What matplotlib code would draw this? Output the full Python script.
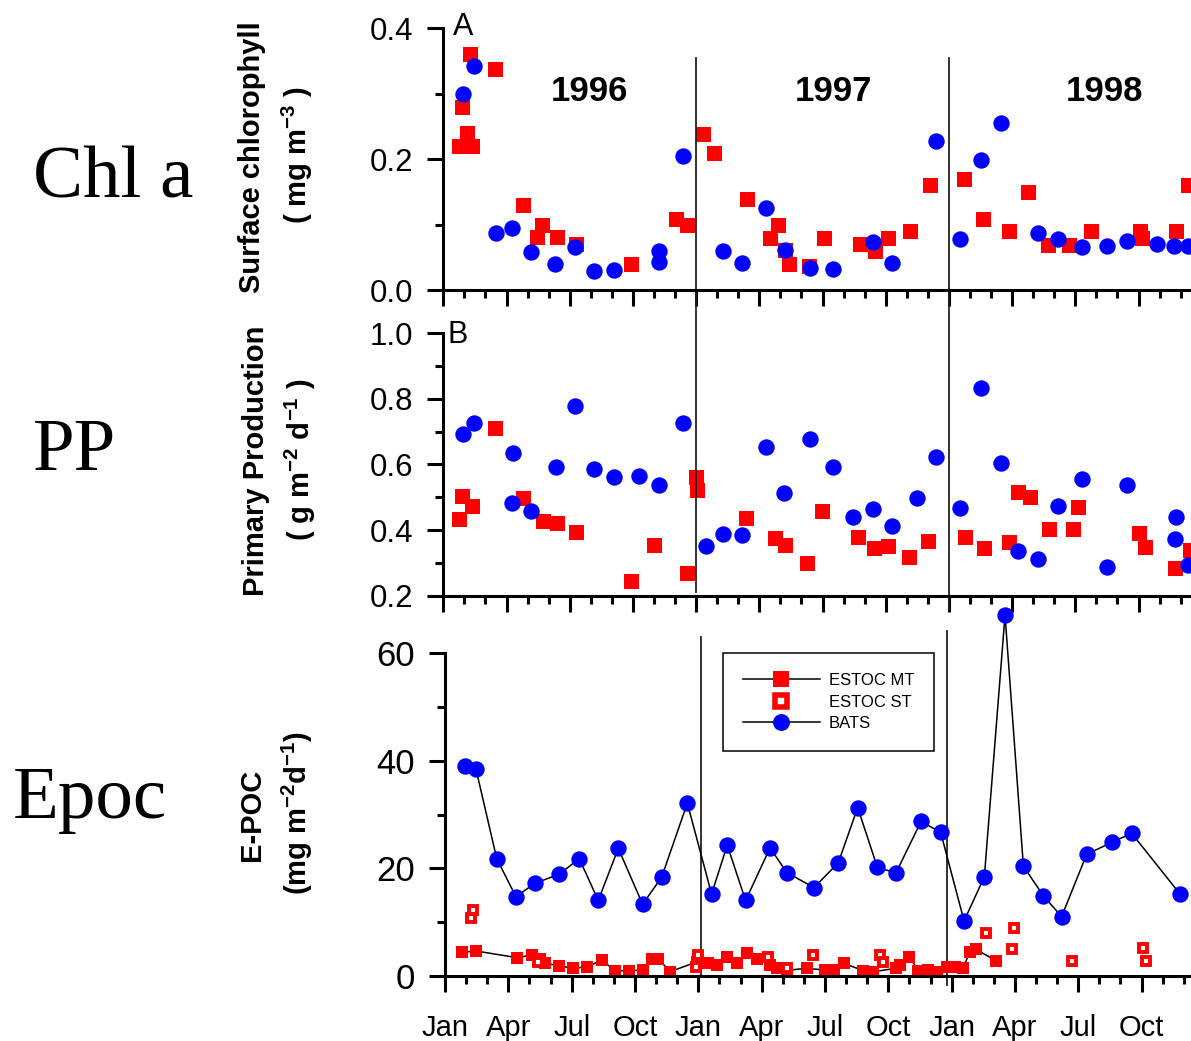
import matplotlib
matplotlib.use('Agg')
import matplotlib.pyplot as plt
from matplotlib.lines import Line2D
from matplotlib.ticker import MultipleLocator, FormatStrFormatter

plt.rcParams['font.family'] = 'Liberation Sans'
plt.rcParams['mathtext.fontset'] = 'custom'
plt.rcParams['mathtext.rm'] = 'Liberation Sans:bold'
plt.rcParams['mathtext.it'] = 'Liberation Sans:bold'
plt.rcParams['mathtext.bf'] = 'Liberation Sans:bold'

RED = '#ff0000'
BLUE = '#0000ff'

# x = months since 1 Jan 1996
month_ticks = list(range(0, 36, 3))
month_labels = ['Jan', 'Apr', 'Jul', 'Oct'] * 3
years = ['1996', '1997', '1998']
year_pos = [6.96, 18.54, 31.39]
year_lines = [12, 24]

# panel A - surface chlorophyll (mg m-3)
chl_estoc_m = [0.75, 0.89, 1.12, 1.27, 1.36, 2.45, 3.77, 4.43, 4.67, 5.38, 6.28, 8.91, 11.03, 11.55,
               12.34, 12.86, 14.40, 15.50, 15.90, 16.22, 16.42, 17.37, 18.08, 19.78, 20.49, 21.12,
               22.15, 23.10, 24.73, 25.63, 26.85, 27.74, 28.71, 29.68, 30.73, 33.07, 33.15, 34.77, 35.37]
chl_estoc = [0.22, 0.28, 0.24, 0.36, 0.22, 0.338, 0.13, 0.081, 0.099, 0.081, 0.07, 0.039, 0.109, 0.099,
             0.239, 0.21, 0.139, 0.08, 0.099, 0.061, 0.04, 0.036, 0.08, 0.07, 0.059, 0.08,
             0.09, 0.16, 0.17, 0.109, 0.09, 0.15, 0.069, 0.069, 0.09, 0.09, 0.08, 0.09, 0.16]
chl_bats_m = [0.95, 1.47, 2.49, 3.25, 4.16, 5.30, 6.25, 7.17, 8.10, 10.24, 10.24, 11.39, 13.29, 14.19,
              15.32, 16.22, 17.40, 18.51, 20.41, 21.28, 23.37, 24.52, 25.50, 26.47, 28.24, 29.16,
              30.33, 31.48, 32.46, 33.86, 34.69, 35.36]
chl_bats = [0.299, 0.342, 0.087, 0.095, 0.058, 0.040, 0.066, 0.029, 0.030, 0.060, 0.043, 0.205, 0.060, 0.042,
            0.125, 0.061, 0.034, 0.032, 0.073, 0.042, 0.227, 0.078, 0.198, 0.255, 0.087, 0.078,
            0.066, 0.068, 0.075, 0.071, 0.068, 0.068]

# panel B - primary production (g m-2 d-1)
pp_estoc_m = [0.76, 0.90, 1.35, 2.45, 3.77, 4.75, 5.38, 6.28, 8.91, 10.00, 11.58, 11.98, 12.03, 14.35,
              15.74, 16.22, 17.25, 17.99, 19.67, 20.44, 21.09, 22.10, 22.99, 24.76, 25.68, 26.85,
              27.26, 27.85, 28.75, 29.87, 30.14, 33.03, 33.30, 34.73, 35.44]
pp_estoc = [0.434, 0.505, 0.473, 0.712, 0.499, 0.429, 0.421, 0.395, 0.245, 0.355, 0.268, 0.563, 0.522, 0.438,
            0.375, 0.355, 0.301, 0.459, 0.380, 0.346, 0.352, 0.319, 0.368, 0.380, 0.346, 0.365,
            0.517, 0.502, 0.403, 0.403, 0.469, 0.390, 0.349, 0.285, 0.339]
pp_bats_m = [0.95, 1.47, 3.25, 3.32, 4.16, 5.33, 6.25, 7.17, 8.10, 9.29, 10.24, 11.39, 12.47, 13.29,
             14.16, 15.32, 16.18, 17.40, 18.51, 19.43, 20.41, 21.28, 22.47, 23.37, 24.52, 25.50,
             26.47, 27.29, 28.24, 29.16, 30.33, 31.48, 32.46, 34.73, 34.76, 35.36]
pp_bats = [0.692, 0.726, 0.482, 0.634, 0.458, 0.591, 0.779, 0.586, 0.561, 0.566, 0.538, 0.726, 0.352, 0.388,
           0.385, 0.652, 0.512, 0.677, 0.591, 0.441, 0.464, 0.413, 0.499, 0.624, 0.466, 0.834,
           0.606, 0.336, 0.312, 0.473, 0.556, 0.287, 0.538, 0.373, 0.439, 0.294]

# panel C - E-POC (mg m-2 d-1)
poc_mt_m = [0.79, 1.47, 3.42, 4.11, 4.50, 4.74, 5.41, 6.08, 6.74, 7.42, 8.05, 8.72, 9.39, 9.80, 10.10,
            10.66, 11.95, 12.47, 12.90, 13.34, 13.82, 14.29, 14.79, 15.40, 15.71, 16.19, 17.13, 18.00,
            18.43, 18.90, 19.82, 20.29, 21.36, 21.55, 22.00, 22.42, 22.90, 23.29, 23.77, 24.16, 24.55,
            24.87, 25.15, 26.10]
poc_mt = [4.35, 4.6, 3.35, 3.85, 3.05, 2.3, 1.86, 1.37, 1.67, 2.92, 0.93, 0.93, 1.06, 3.2, 3.2,
          0.74, 2.6, 2.3, 2.0, 3.55, 2.3, 4.17, 3.05, 2.0, 1.37, 1.0, 1.37, 1.06,
          1.06, 2.3, 0.93, 0.74, 1.37, 2.0, 3.55, 0.93, 1.06, 0.74, 1.67, 1.67, 1.49,
          4.47, 4.9, 2.8]
poc_st_m = [1.22, 1.31, 4.42, 11.89, 12.00, 15.31, 16.19, 17.42, 20.60, 20.76, 25.63, 26.85, 26.97,
            29.72, 33.08, 33.19]
poc_st = [10.7, 12.2, 2.6, 1.67, 3.85, 3.55, 1.5, 3.85, 3.85, 2.6, 7.9, 4.9, 8.8, 2.8, 5.2, 2.8]
poc_bats_m = [0.95, 1.47, 2.45, 3.36, 4.26, 5.42, 6.36, 7.26, 8.21, 9.36, 10.26, 11.48, 12.63, 13.37,
              14.24, 15.40, 16.19, 17.48, 18.63, 19.55, 20.48, 21.36, 22.55, 23.48, 24.59, 25.55,
              26.53, 27.40, 28.34, 29.21, 30.40, 31.58, 32.53, 34.82]
poc_bats = [39.0, 38.4, 21.8, 14.7, 17.2, 18.9, 21.8, 14.0, 23.7, 13.3, 18.3, 32.1, 15.2, 24.3,
            14.0, 23.8, 19.2, 16.4, 21.0, 31.3, 20.2, 19.1, 28.7, 26.7, 10.2, 18.4,
            67.1, 20.4, 14.9, 11.0, 22.6, 24.8, 26.5, 15.2]

W, H = 1191, 1041
fig = plt.figure(figsize=(W / 100, H / 100), dpi=100)


def box(left, top, right, bottom):
    return [left / W, 1 - bottom / H, (right - left) / W, (bottom - top) / H]


def style(ax, xmax, ylim, major, minor, fmt, ysize):
    ax.spines['top'].set_visible(False)
    ax.spines['right'].set_visible(False)
    ax.spines['left'].set_linewidth(2.2)
    ax.spines['bottom'].set_linewidth(2.2)
    ax.set_xlim(0, xmax)
    ax.set_ylim(*ylim)
    ax.set_xticks(month_ticks)
    ax.xaxis.set_minor_locator(MultipleLocator(1))
    ax.yaxis.set_major_locator(MultipleLocator(major))
    ax.yaxis.set_minor_locator(MultipleLocator(minor))
    ax.yaxis.set_major_formatter(FormatStrFormatter(fmt))
    ax.tick_params(which='major', direction='out', length=11.5, width=2.2)
    ax.tick_params(which='minor', direction='out', length=6, width=2.2)
    ax.tick_params(axis='y', pad=10, labelsize=ysize)
    ax.set_facecolor('none')


axA = fig.add_axes(box(443.3, 28.3, 1191, 290))
axB = fig.add_axes(box(443.3, 333.3, 1191, 595.7))
axC = fig.add_axes(box(445, 653.3, 1191, 975.7))

style(axA, 35.49, (0, 0.4), 0.2, 0.1, '%.1f', 22.5)
style(axB, 35.49, (0.2, 1.0), 0.2, 0.1, '%.1f', 22.5)
style(axC, 35.34, (0, 60), 20, 10, '%d', 25)
axA.tick_params(axis='x', labelbottom=False)
axB.tick_params(axis='x', labelbottom=False)
axC.set_xticks(month_ticks, month_labels)
axC.tick_params(axis='x', labelsize=21, pad=16)

# A
axA.plot(chl_estoc_m, chl_estoc, 's', color=RED, ms=10.8, mew=0, clip_on=False)
axA.plot(chl_bats_m, chl_bats, 'o', color=BLUE, ms=11.8, mew=0, clip_on=False)
for xl in year_lines:
    axA.plot([xl, xl], [0.355, -0.028], color='#222222', lw=1.3, clip_on=False)
for yr, xp in zip(years, year_pos):
    axA.text(xp, 0.303, yr, ha='center', va='center', fontsize=25, fontweight='bold')
axA.text(0.013, 0.974, 'A', transform=axA.transAxes, fontsize=22, va='baseline', ha='left')

# B
axB.plot(pp_estoc_m, pp_estoc, 's', color=RED, ms=10.8, mew=0, clip_on=False)
axB.plot(pp_bats_m, pp_bats, 'o', color=BLUE, ms=11.8, mew=0, clip_on=False)
axB.plot([12, 12], [1.07, 0.212], color='#222222', lw=1.3, clip_on=False)
axB.plot([24, 24], [1.07, 0.16], color='#222222', lw=1.3, clip_on=False)
axB.text(0.006, 0.963, 'B', transform=axB.transAxes, fontsize=22, va='baseline', ha='left')

# C
axC.plot([12.11, 12.11], [63.1, 0], color='#222222', lw=1.3, clip_on=False)
axC.plot([23.77, 23.77], [64.2, -1.7], color='#222222', lw=1.3, clip_on=False)
axC.plot(poc_mt_m, poc_mt, '-s', color='k', mfc=RED, mec=RED, ms=8.6, mew=0, lw=1.1, clip_on=False)
axC.plot(poc_st_m, poc_st, 's', mfc='white', mec=RED, ms=6, mew=2.8, clip_on=False)
axC.plot(poc_bats_m, poc_bats, '-o', color='k', mfc=BLUE, mec=BLUE, ms=11.8, mew=0, lw=1.1, clip_on=False)

handles = [
    Line2D([], [], color='k', lw=1.1, marker='s', mfc=RED, mec=RED, ms=12.2, mew=0),
    Line2D([], [], ls='none', marker='s', mfc='white', mec=RED, ms=8.3, mew=4),
    Line2D([], [], color='k', lw=1.1, marker='o', mfc=BLUE, mec=BLUE, ms=12.2, mew=0),
]
leg = axC.legend(handles, ['ESTOC MT', 'ESTOC ST', 'BATS'], loc='upper left',
                 bbox_to_anchor=(723 / W, 1 - 653 / H), bbox_transform=fig.transFigure,
                 borderaxespad=0, fontsize=12, handlelength=4.6, handletextpad=0.55,
                 labelspacing=0.4, borderpad=1.2, fancybox=False, framealpha=1)
leg.get_frame().set_edgecolor('k')
leg.get_frame().set_linewidth(1.1)

# axis titles
fig.text(252.5 / W, 1 - 157 / H, 'Surface chlorophyll', rotation=90, ha='center', va='center',
         fontsize=21, fontweight='bold')
fig.text(297 / W, 1 - 155 / H, r'( mg m$^{-3}$ )', rotation=90, ha='center', va='center',
         fontsize=21, fontweight='bold')
fig.text(256 / W, 1 - 461 / H, 'Primary Production', rotation=90, ha='center', va='center',
         fontsize=21, fontweight='bold')
fig.text(300 / W, 1 - 460 / H, r'( g m$^{-2}$ d$^{-1}$ )', rotation=90, ha='center', va='center',
         fontsize=21, fontweight='bold')
fig.text(252.5 / W, 1 - 815 / H, 'E-POC', rotation=90, ha='center', va='center',
         fontsize=21, fontweight='bold')
fig.text(297 / W, 1 - 813 / H, r'(mg m$^{-2}$d$^{-1}$)', rotation=90, ha='center', va='center',
         fontsize=21, fontweight='bold')

# big panel names
fig.text(33 / W, 1 - 197 / H, 'Chl a', family='Liberation Serif', fontsize=54, va='baseline')
fig.text(33 / W, 1 - 470 / H, 'PP', family='Liberation Serif', fontsize=54, va='baseline')
fig.text(13 / W, 1 - 818 / H, 'Epoc', family='Liberation Serif', fontsize=54, va='baseline')

fig.savefig('out.png', dpi=100)
